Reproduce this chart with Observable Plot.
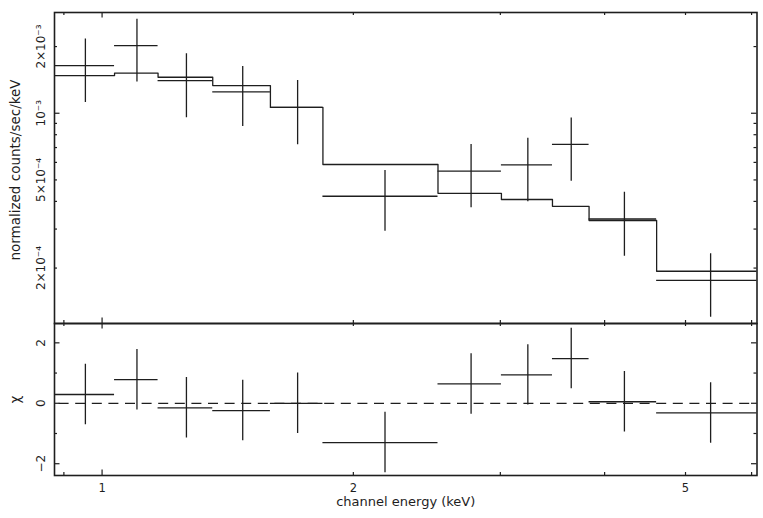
<!DOCTYPE html>
<html><head><meta charset="utf-8">
<script src="https://cdn.jsdelivr.net/npm/d3@7"></script>
<script src="https://cdn.jsdelivr.net/npm/@observablehq/plot@0.6"></script>
<style>
html,body{margin:0;padding:0;background:#fff;}
#chart{position:relative;width:763px;height:518px;}
#chart svg{position:absolute;left:0;overflow:visible;}
</style></head><body><div id="chart"></div>
<script>
// ---- data ----
const energyLo = [0.875, 1.035, 1.167, 1.357, 1.591, 1.839, 2.526, 3.009, 3.464, 3.832, 4.617];
const energyHi = [1.035, 1.167, 1.357, 1.591, 1.839, 2.526, 3.009, 3.464, 3.832, 4.617, 6.10];
const rate     = [1.642e-3, 2.02e-3, 1.405e-3, 1.2475e-3, 1.063e-3, 4.22e-4, 5.48e-4, 5.85e-4, 7.23e-4, 3.33e-4, 1.76e-4];
const rateErr  = [0.523e-3, 0.635e-3, 0.45e-3, 0.377e-3, 0.342e-3, 1.29e-4, 1.74e-4, 1.86e-4, 2.30e-4, 1.07e-4, 0.56e-4];
const model    = [1.48e-3, 1.516e-3, 1.454e-3, 1.334e-3, 1.064e-3, 5.87e-4, 4.35e-4, 4.08e-4, 3.80e-4, 3.28e-4, 1.935e-4];
const residual = [0.29, 0.78, -0.15, -0.24, 0.0, -1.30, 0.64, 0.94, 1.48, 0.05, -0.32];
const residualErr = [1, 1, 1, 1, 1, 1, 1, 1, 1, 1, 1];

const xTickMajor = [1];
const xTickMinor = [0.9, 2, 3, 4, 5, 6];
const xTickLabels = [1, 2, 5];
const yTickMajor = [1e-3];
const yTickMinor = [2e-4, 3e-4, 4e-4, 5e-4, 6e-4, 7e-4, 8e-4, 9e-4, 2e-3];
const yTickLabels = [2e-3, 1e-3, 5e-4, 2e-4];
const yTickText = ["2×10⁻³", "10⁻³", "5×10⁻⁴", "2×10⁻⁴"];
const chiTickMajor = [-2, 0, 2];
const chiTickMinor = [-1, 1];
const chiTickText = ["−2", "0", "2"];
const xTitle = "channel energy (keV)";
const yTitle = "normalized counts/sec/keV";
const chiTitle = "χ";

// ---- layout ----
const W = 763, mL = 54, mR = 6.5;
const H1 = 323, mT1 = 12, plotH1 = H1 - mT1;
const H2 = 195, mB2 = 43, plotH2 = H2 - mB2;
const plotW = W - mL - mR;
const ink = "#1e1e1e";
const font = "DejaVu Sans";
const xDomain = [0.877, 6.09];
const MAJ = 5.5, MIN = 3;

const bins = energyLo.map((lo, i) => ({
  lo, hi: energyHi[i], mid: (lo + energyHi[i]) / 2,
  rate: rate[i], err: rateErr[i], res: residual[i], resErr: residualErr[i]
}));
const modelStep = energyLo.map((x, i) => ({x, y: model[i]}))
  .concat([{x: energyHi[energyHi.length - 1], y: model[model.length - 1]}]);

function xTickMarks(vals, len, plotH) {
  return [
    Plot.tickX(vals, {x: d => d, insetBottom: plotH - len, stroke: ink, strokeWidth: 1.2}),
    Plot.tickX(vals, {x: d => d, insetTop: plotH - len, stroke: ink, strokeWidth: 1.2})
  ];
}
function yTickMarks(vals, len) {
  return [
    Plot.tickY(vals, {y: d => d, insetRight: plotW - len, stroke: ink, strokeWidth: 1.2}),
    Plot.tickY(vals, {y: d => d, insetLeft: plotW - len, stroke: ink, strokeWidth: 1.2})
  ];
}

const spectrumPlot = Plot.plot({
  width: W, height: H1,
  marginLeft: mL, marginRight: mR, marginTop: mT1, marginBottom: 0,
  style: {background: "transparent", overflow: "visible"},
  x: {type: "log", domain: xDomain, axis: null},
  y: {type: "log", domain: [1.124e-4, 2.85e-3], axis: null},
  marks: [
    Plot.line(modelStep, {x: "x", y: "y", curve: "step-after", stroke: ink, strokeWidth: 1.3, clip: true}),
    Plot.ruleY(bins, {y: "rate", x1: "lo", x2: "hi", stroke: ink, strokeWidth: 1.3, clip: true}),
    Plot.ruleX(bins, {x: "mid", y1: d => d.rate - d.err, y2: d => d.rate + d.err, stroke: ink, strokeWidth: 1.3, clip: true}),
    ...xTickMarks(xTickMajor, MAJ, plotH1),
    ...xTickMarks(xTickMinor, MIN, plotH1),
    ...yTickMarks(yTickMajor, MAJ),
    ...yTickMarks(yTickMinor, MIN),
    Plot.text(yTickLabels, {y: d => d, text: (d, i) => yTickText[i], frameAnchor: "left", rotate: -90,
      textAnchor: "middle", lineAnchor: "bottom", dx: -9.5, fill: ink, fontFamily: font, fontSize: 12}),
    Plot.text([yTitle], {text: d => d, frameAnchor: "left", rotate: -90, textAnchor: "middle",
      lineAnchor: "bottom", dx: -34.5, dy: 2, fill: ink, fontFamily: font, fontSize: 13.5}),
    Plot.frame({stroke: ink, strokeWidth: 1.6})
  ]
});

const residualPlot = Plot.plot({
  width: W, height: H2,
  marginLeft: mL, marginRight: mR, marginTop: 0, marginBottom: mB2,
  style: {background: "transparent", overflow: "visible"},
  x: {type: "log", domain: xDomain, axis: null},
  y: {type: "linear", domain: [-2.39, 2.64], axis: null},
  marks: [
    Plot.ruleY([0], {stroke: ink, strokeWidth: 1.2, strokeDasharray: "10,6.6", strokeDashoffset: 12}),
    Plot.ruleY(bins, {y: "res", x1: "lo", x2: "hi", stroke: ink, strokeWidth: 1.3, clip: true}),
    Plot.ruleX(bins, {x: "mid", y1: d => d.res - d.resErr, y2: d => d.res + d.resErr, stroke: ink, strokeWidth: 1.3, clip: true}),
    ...xTickMarks(xTickMajor, MAJ, plotH2),
    ...xTickMarks(xTickMinor, MIN, plotH2),
    ...yTickMarks(chiTickMajor, MAJ),
    ...yTickMarks(chiTickMinor, MIN),
    Plot.text(chiTickMajor, {y: d => d, text: (d, i) => chiTickText[i], frameAnchor: "left", rotate: -90,
      textAnchor: "middle", lineAnchor: "bottom", dx: -10, fill: ink, fontFamily: font, fontSize: 12}),
    Plot.text([chiTitle], {text: d => d, frameAnchor: "left", rotate: -90, textAnchor: "middle",
      lineAnchor: "bottom", dx: -35, fill: ink, fontFamily: font, fontSize: 13.5}),
    Plot.text(xTickLabels, {x: d => d, text: d => String(d), frameAnchor: "bottom", lineAnchor: "bottom",
      dy: 16, fill: ink, fontFamily: font, fontSize: 11.5}),
    Plot.text([xTitle], {text: d => d, frameAnchor: "bottom", lineAnchor: "bottom",
      dy: 30, fill: ink, fontFamily: font, fontSize: 13}),
    Plot.frame({stroke: ink, strokeWidth: 1.6})
  ]
});

spectrumPlot.style.top = "0px";
residualPlot.style.top = H1 + "px";
const chart = document.getElementById("chart");
chart.appendChild(residualPlot);
chart.appendChild(spectrumPlot);
</script>
</body></html>
